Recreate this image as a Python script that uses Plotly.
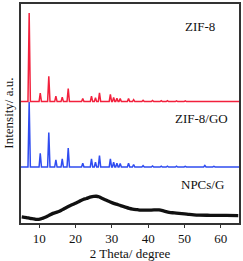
import plotly.graph_objects as go

# ---- data (2 theta in degree, intensity in arbitrary units with offsets) ----
zif8_base = 122.5
zif8_peaks_x = [7.25, 10.3, 12.65, 14.6, 16.35, 18.0, 22.0, 24.4, 25.5, 26.6, 29.6, 30.5, 31.4, 32.3, 34.6, 36.0, 38.6, 41.2, 43.6, 45.3, 47.8, 50.2, 52.4, 55.6, 58.1]
zif8_peaks_y = [212, 131, 148, 128, 127, 135.7, 125.7, 128, 126.3, 131.3, 129.7, 126.7, 126, 125.5, 125.5, 124.5, 123.8, 123.6, 123.4, 123.4, 123.3, 123.3, 123.2, 123.2, 123.1]

gozif_base = 56.5
gozif_peaks_x = [7.25, 10.3, 12.65, 14.6, 16.35, 18.0, 22.0, 24.4, 25.5, 26.6, 29.6, 30.5, 31.4, 32.3, 34.6, 36.0, 38.6, 41.2, 43.6, 45.3, 47.8, 50.2, 52.4, 55.6, 58.1]
gozif_peaks_y = [122, 70.3, 91.3, 63.7, 64.7, 75.7, 60.3, 64.7, 61.3, 68, 64.7, 61.3, 60.3, 60, 60.3, 59, 57.8, 57.6, 57.4, 57.3, 57.3, 57.2, 57.2, 58.0, 57.1]

npc_x = [5.2, 6.5, 7.5, 8.5, 9.3, 10.2, 10.9, 12.0, 12.9, 13.8, 15.2, 16.4, 17.5, 18.6, 19.8, 21.0, 22.1, 23.0, 24.3, 25.0, 25.7, 26.4, 27.1, 28.0, 28.9, 30.0, 31.2, 32.4, 33.5, 34.8, 35.7, 37.0, 38.0, 39.2, 40.3, 41.6, 43.0, 44.4, 45.8, 47.2, 48.5, 50.0, 51.3, 52.6, 54.0, 56.3, 58.6, 61.5, 64.8]
npc_y = [6.3, 5.5, 4.7, 4.2, 3.7, 3.9, 4.7, 6.3, 8.0, 9.7, 11.3, 13.5, 15.7, 17.7, 19.7, 21.8, 23.7, 24.7, 26.3, 26.8, 27.0, 26.5, 25.3, 23.8, 22.3, 20.6, 19.0, 17.6, 16.3, 14.7, 14.0, 13.4, 13.0, 12.9, 13.0, 13.2, 13.2, 12.0, 10.7, 10.2, 9.7, 9.2, 8.7, 8.3, 8.0, 7.8, 7.7, 7.6, 7.5]

labels = ["ZIF-8", "ZIF-8/GO", "NPCs/G"]
label_x = [54.3, 54.8, 54.9]
label_y = [198, 105, 39]

x_ticks = [10, 20, 30, 40, 50, 60]


def peak_profile(base, px, py, half=0.33, start=5.0, end=65.0):
    xs, ys = [start], [base]
    for x, y in zip(px, py):
        xs += [x - half, x, x + half]
        ys += [base, y, base]
    xs.append(end)
    ys.append(base)
    return xs, ys


fig = go.Figure()
rx, ry = peak_profile(zif8_base, zif8_peaks_x, zif8_peaks_y)
bx, by = peak_profile(gozif_base, gozif_peaks_x, gozif_peaks_y)

fig.add_trace(go.Scatter(x=npc_x, y=npc_y, mode="lines", line=dict(color="#111111", width=3.3, shape="spline"), showlegend=False))
fig.add_trace(go.Scatter(x=bx, y=by, mode="lines", line=dict(color="#2f4cf0", width=1.5), showlegend=False))
fig.add_trace(go.Scatter(x=rx, y=ry, mode="lines", line=dict(color="#f2203c", width=1.5), showlegend=False))

font = "Liberation Serif"
for t, x, y in zip(labels, label_x, label_y):
    fig.add_annotation(x=x, y=y, text=t, showarrow=False, xref="x", yref="y",
                       font=dict(family=font, size=13, color="#111111"))

fig.add_annotation(xref="paper", yref="paper", x=-0.059, y=0.5, xanchor="center", yanchor="middle",
                   text="Intensity/ a.u.", textangle=-90, showarrow=False,
                   font=dict(family=font, size=13, color="#111111"))

fig.update_layout(
    width=243, height=261,
    margin=dict(l=21, r=3, t=2, b=38),
    paper_bgcolor="white", plot_bgcolor="white",
    font=dict(family=font, size=13, color="#111111"),
)
fig.update_xaxes(range=[5, 65], tickvals=x_ticks, ticks="outside", ticklen=3, tickwidth=1.2,
                 tickcolor="#333333", showline=True, linecolor="#333333", linewidth=1.6, mirror=True,
                 showgrid=False, zeroline=False,
                 tickfont=dict(family=font, size=13, color="#111111"),
                 title=dict(text="2 Theta/ degree", standoff=2, font=dict(family=font, size=13, color="#111111")))
fig.update_yaxes(range=[0, 221], showticklabels=False, ticks="", showline=True, linecolor="#333333",
                 linewidth=1.6, mirror=True, showgrid=False, zeroline=False)

fig.write_html("out.html", config={"displayModeBar": False},
               post_script="document.body.style.margin='0';")
